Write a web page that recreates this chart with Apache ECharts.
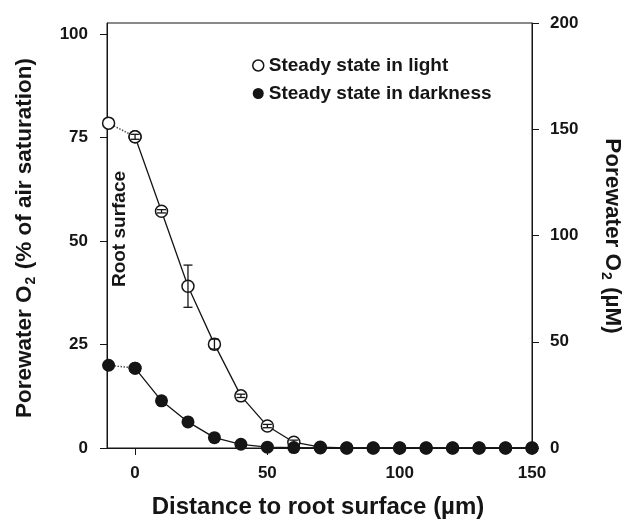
<!DOCTYPE html>
<html>
<head>
<meta charset="utf-8">
<script src="https://cdn.jsdelivr.net/npm/echarts@6/dist/echarts.min.js"></script>
<style>
  html, body { margin: 0; padding: 0; background: #fff; }
  #chart { width: 625px; height: 527px; }
</style>
</head>
<body>
<div id="chart"></div>
<script>
  // distance from root surface (µm)
  const distances = [0, 10, 20, 30, 40, 50, 60, 70, 80, 90, 100, 110, 120, 130, 140, 150]
  // O2 (% air saturation), steady state in light
  const lightO2 = [75.2, 57.2, 39.1, 25.1, 12.6, 5.3, 1.4, 0.2, 0, 0, 0, 0, 0, 0, 0, 0]
  const lightErr = [0.6, 0.4, 5.1, 1.2, 0.4, 0.4, 0.5, 0, 0, 0, 0, 0, 0, 0, 0, 0]
  // O2, steady state in darkness
  const darkO2 = [19.3, 11.4, 6.3, 2.5, 0.9, 0.2, 0.1, 0, 0, 0, 0, 0, 0, 0, 0, 0]
  // value inside the root (left of the surface), joined with dotted line
  const insideX = -10
  const lightInside = 78.5
  const darkInside = 20.0
  const xTicks = [0, 50, 100, 150]
  const leftTicks = [0, 25, 50, 75, 100]

  const ink = '#151515'
  const font = 'Liberation Sans, Arial, sans-serif'

  const chart = echarts.init(document.getElementById('chart'))

  const zip = (xs, ys) => xs.map((x, i) => [x, ys[i]])
  const errData = distances.map((x, i) => [x, lightO2[i] - lightErr[i], lightO2[i] + lightErr[i]])

  const labelStyle = { fontSize: 17, fontWeight: 'bold', color: ink, fontFamily: font }
  const titleRich = {
    a: { fontSize: 22.5, fontWeight: 'bold', lineHeight: 26, verticalAlign: 'top', fontFamily: font, fill: ink },
    s: { fontSize: 14, fontWeight: 'bold', lineHeight: 14, padding: [11, 1, 0, 1], verticalAlign: 'top', fontFamily: font, fill: ink },
  }

  const option = {
    animation: false,
    grid: { left: 107, right: 93, top: 23, bottom: 79, show: true, borderColor: ink, borderWidth: 1 },
    legend: {
      orient: 'vertical',
      left: 247,
      top: 51,
      itemGap: 9,
      itemWidth: 11,
      itemHeight: 11,
      icon: 'circle',
      textStyle: { fontSize: 19, fontWeight: 'bold', color: ink, fontFamily: font },
      data: [
        { name: 'Steady state in light', itemStyle: { color: '#fff', borderColor: ink, borderWidth: 1.5 } },
        { name: 'Steady state in darkness', itemStyle: { color: ink } },
      ],
    },
    xAxis: {
      type: 'value',
      min: -10.6,
      max: 150,
      splitLine: { show: false },
      axisLine: { lineStyle: { color: ink, width: 1 } },
      axisTick: { customValues: xTicks, length: 7, lineStyle: { color: ink } },
      axisLabel: Object.assign({ customValues: xTicks, margin: 17 }, labelStyle),
    },
    yAxis: [
      {
        type: 'value',
        min: 0,
        max: 102.7,
        splitLine: { show: false },
        axisLine: { show: true, onZero: false, lineStyle: { color: ink, width: 1 } },
        axisTick: { customValues: leftTicks, length: 7, lineStyle: { color: ink } },
        axisLabel: Object.assign({ customValues: leftTicks, margin: 19 }, labelStyle),
      },
      {
        type: 'value',
        min: 0,
        max: 200,
        interval: 50,
        position: 'right',
        splitLine: { show: false },
        axisLine: { show: true, onZero: false, lineStyle: { color: ink, width: 1 } },
        axisTick: { show: true, length: 7, lineStyle: { color: ink } },
        axisLabel: Object.assign({ margin: 18 }, labelStyle),
      },
    ],
    graphic: [
      {
        type: 'text', x: 26, y: 238, rotation: Math.PI / 2,
        style: {
          text: '{a|Porewater O}{s|2}{a| (% of air saturation)}',
          align: 'center', verticalAlign: 'middle', fill: ink, rich: titleRich,
        },
      },
      {
        type: 'text', x: 611, y: 236, rotation: -Math.PI / 2,
        style: {
          text: '{a|Porewater O}{s|2}{a| (µM)}',
          align: 'center', verticalAlign: 'middle', fill: ink, rich: titleRich,
        },
      },
      {
        type: 'text', x: 318, y: 507,
        style: { text: 'Distance to root surface (µm)', align: 'center', verticalAlign: 'middle', fontSize: 24, fontWeight: 'bold', fontFamily: font, fill: ink },
      },
      {
        type: 'text', x: 120, y: 229, rotation: Math.PI / 2,
        style: { text: 'Root surface', align: 'center', verticalAlign: 'middle', fontSize: 19, fontWeight: 'bold', fontFamily: font, fill: ink },
      },
    ],
    series: [
      {
        name: 'lightInside',
        type: 'line',
        data: [[insideX, lightInside], [distances[0], lightO2[0]]],
        symbol: 'circle',
        symbolSize: 12,
        itemStyle: { color: '#fff', borderColor: ink, borderWidth: 1.5 },
        lineStyle: { color: '#555', width: 1.5, type: 'dotted' },
        z: 3,
      },
      {
        name: 'darkInside',
        type: 'line',
        data: [[insideX, darkInside], [distances[0], darkO2[0]]],
        symbol: 'circle',
        symbolSize: 13,
        itemStyle: { color: ink },
        lineStyle: { color: '#555', width: 1.5, type: 'dotted' },
        z: 3,
      },
      {
        name: 'Steady state in light',
        type: 'line',
        data: zip(distances, lightO2),
        symbol: 'circle',
        symbolSize: 12,
        itemStyle: { color: '#fff', borderColor: ink, borderWidth: 1.5 },
        lineStyle: { color: ink, width: 1.3 },
        z: 4,
      },
      {
        name: 'errors',
        type: 'custom',
        data: errData,
        z: 5,
        renderItem: (params, api) => {
          const x = api.value(0)
          const lo = api.coord([x, api.value(1)])
          const hi = api.coord([x, api.value(2)])
          const w = 4.5
          const style = { stroke: ink, lineWidth: 1.3 }
          return {
            type: 'group',
            children: [
              { type: 'line', shape: { x1: lo[0], y1: lo[1], x2: hi[0], y2: hi[1] }, style },
              { type: 'line', shape: { x1: lo[0] - w, y1: lo[1], x2: lo[0] + w, y2: lo[1] }, style },
              { type: 'line', shape: { x1: hi[0] - w, y1: hi[1], x2: hi[0] + w, y2: hi[1] }, style },
            ],
          }
        },
      },
      {
        name: 'Steady state in darkness',
        type: 'line',
        data: zip(distances, darkO2),
        symbol: 'circle',
        symbolSize: 13,
        itemStyle: { color: ink },
        lineStyle: { color: ink, width: 1.3 },
        z: 6,
      },
    ],
  }

  chart.setOption(option)
</script>
</body>
</html>
